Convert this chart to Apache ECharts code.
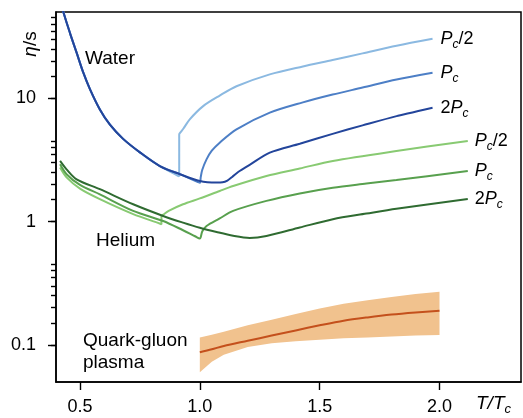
<!DOCTYPE html>
<html>
<head>
<meta charset="utf-8">
<script src="https://cdn.jsdelivr.net/npm/echarts@6/dist/echarts.min.js"></script>
<style>
  html, body { margin: 0; padding: 0; background: #fff; }
  #chart { width: 523px; height: 418px; }
</style>
</head>
<body>
<div id="chart"></div>
<script>
// ---- Water: eta/s against T/Tc at three pressures ----
const waterHalfT = [0.425, 0.430, 0.458, 0.486, 0.514, 0.542, 0.583, 0.625, 0.680, 0.750, 0.833, 0.905, 0.914, 0.914, 0.920, 0.931, 0.958, 1.014, 1.083, 1.153, 1.292, 1.430, 1.554, 1.679, 1.821, 1.971];
const waterHalfV = [55, 50.4, 33.9, 23.4, 16.1, 11.8, 8.11, 6.1, 4.68, 3.64, 2.82, 2.37, 2.33, 5.09, 5.30, 5.65, 6.74, 8.63, 10.5, 12.5, 15.6, 18.1, 20.4, 23.1, 26.6, 30.3];

const waterOneT = [0.425, 0.430, 0.458, 0.486, 0.514, 0.542, 0.583, 0.625, 0.680, 0.750, 0.833, 0.917, 0.990, 1.000, 1.004, 1.010, 1.028, 1.050, 1.083, 1.153, 1.292, 1.430, 1.554, 1.679, 1.821, 1.971];
const waterOneV = [55, 50.4, 33.9, 23.4, 16.1, 11.8, 8.11, 6.1, 4.68, 3.64, 2.82, 2.42, 2.10, 2.06, 2.30, 2.62, 3.19, 3.75, 4.36, 5.59, 7.63, 9.25, 10.7, 12.2, 14.2, 16.1];

const waterTwoT = [0.425, 0.430, 0.458, 0.486, 0.514, 0.542, 0.583, 0.625, 0.680, 0.750, 0.833, 0.917, 1.000, 1.070, 1.095, 1.115, 1.135, 1.160, 1.208, 1.292, 1.417, 1.554, 1.679, 1.821, 1.971];
const waterTwoV = [55, 50.4, 33.9, 23.4, 16.1, 11.8, 8.11, 6.1, 4.68, 3.64, 2.82, 2.42, 2.13, 2.07, 2.08, 2.15, 2.30, 2.52, 2.88, 3.62, 4.27, 5.14, 6.02, 7.16, 8.38];

// ---- Helium ----
const heliumHalfT = [0.417, 0.444, 0.500, 0.583, 0.722, 0.832, 0.840, 0.840, 0.848, 0.870, 0.930, 1.000, 1.083, 1.139, 1.278, 1.417, 1.555, 1.820, 2.118];
const heliumHalfV = [2.74, 2.28, 1.85, 1.52, 1.15, 0.965, 0.951, 1.11, 1.14, 1.22, 1.38, 1.54, 1.77, 1.94, 2.34, 2.69, 3.10, 3.73, 4.50];

const heliumOneT = [0.417, 0.444, 0.500, 0.583, 0.722, 0.847, 0.930, 0.980, 1.000, 1.010, 1.028, 1.083, 1.139, 1.278, 1.417, 1.555, 1.695, 1.820, 2.118];
const heliumOneV = [2.91, 2.42, 1.98, 1.66, 1.22, 1.01, 0.85, 0.76, 0.728, 0.83, 0.921, 1.06, 1.22, 1.47, 1.69, 1.88, 2.03, 2.17, 2.57];

const heliumTwoT = [0.417, 0.444, 0.486, 0.583, 0.722, 0.847, 0.930, 1.000, 1.070, 1.139, 1.208, 1.278, 1.417, 1.555, 1.695, 1.820, 2.118];
const heliumTwoV = [3.10, 2.65, 2.20, 1.83, 1.38, 1.11, 0.98, 0.89, 0.822, 0.767, 0.737, 0.764, 0.894, 1.044, 1.16, 1.27, 1.52];

// ---- Quark-gluon plasma: central estimate and uncertainty band ----
const qgpT    = [1.0, 1.05, 1.1, 1.2, 1.3, 1.4, 1.5, 1.6, 1.7, 1.8, 1.9, 2.0];
const qgpMid  = [0.087, 0.092, 0.098, 0.108, 0.119, 0.131, 0.144, 0.157, 0.167, 0.176, 0.183, 0.189];
const qgpHigh = [0.115, 0.121, 0.128, 0.144, 0.160, 0.178, 0.197, 0.215, 0.230, 0.245, 0.258, 0.269];
const qgpLow  = [0.060, 0.073, 0.083, 0.096, 0.103, 0.107, 0.110, 0.113, 0.115, 0.117, 0.119, 0.120];

// ---- Axis ranges and ticks ----
const X_MIN = 0.4, X_MAX = 2.34;
const Y_MIN = 0.05, Y_MAX = 50;
const xTicks = [0.5, 1.0, 1.5, 2.0];
const yMajorTicks = [0.1, 1, 10];

const FONT = "'Liberation Sans', Arial, Helvetica, sans-serif";

const pairs = (xs, ys) => xs.map((x, i) => [x, ys[i]]);

const richLabel = {
  i: { fontStyle: 'italic', fontSize: 18, lineHeight: 24, fontFamily: FONT, color: '#000' },
  n: { fontSize: 18, lineHeight: 24, fontFamily: FONT, color: '#000' },
  s: { fontStyle: 'italic', fontSize: 12, lineHeight: 13, verticalAlign: 'bottom', fontFamily: FONT, color: '#000' }
};

function curve(name, xs, ys, color, text, dist) {
  return {
    name: name,
    type: 'line',
    data: pairs(xs, ys),
    showSymbol: false,
    symbol: 'none',
    smooth: 0.3,
    lineStyle: { color: color, width: 2 },
    itemStyle: { color: color },
    endLabel: {
      show: true,
      distance: dist,
      formatter: () => text,
      rich: richLabel
    },
    z: 3
  };
}

const chart = echarts.init(document.getElementById('chart'), null, { renderer: 'canvas' });

chart.setOption({
  animation: false,
  backgroundColor: '#fff',
  grid: {
    left: 56, right: 2, top: 12, bottom: 36,
    show: true, borderColor: '#000', borderWidth: 1.5, backgroundColor: 'transparent'
  },
  xAxis: {
    type: 'value',
    min: X_MIN, max: X_MAX,
    axisLine: { show: true, lineStyle: { color: '#000', width: 1.5 } },
    axisTick: { show: true, customValues: xTicks, length: 8, lineStyle: { color: '#000', width: 1.4 } },
    axisLabel: {
      customValues: xTicks, margin: 16,
      fontSize: 18, fontFamily: FONT, color: '#000',
      formatter: v => v.toFixed(1)
    },
    splitLine: { show: false }
  },
  yAxis: {
    type: 'log', logBase: 10,
    min: Y_MIN, max: Y_MAX,
    interval: 1,
    axisLine: { show: true, lineStyle: { color: '#000', width: 1.5 } },
    axisTick: { show: true, customValues: yMajorTicks, length: 8, lineStyle: { color: '#000', width: 1.4 } },
    // nine divisions per decade give the mantissas 2..9
    minorTick: { show: true, splitNumber: 9, length: 5, lineStyle: { color: '#000', width: 1.4 } },
    minorSplitLine: { show: false },
    axisLabel: {
      customValues: yMajorTicks, margin: 20,
      fontSize: 18, fontFamily: FONT, color: '#000',
      formatter: v => String(v)
    },
    splitLine: { show: false }
  },
  series: [
    {
      name: 'QGP band',
      type: 'custom',
      coordinateSystem: 'cartesian2d',
      silent: true,
      z: 1,
      data: [[qgpT[0], qgpMid[0]]],
      renderItem: (params, api) => {
        const pts = [];
        for (let i = 0; i < qgpT.length; i++) pts.push(api.coord([qgpT[i], qgpHigh[i]]));
        for (let i = qgpT.length - 1; i >= 0; i--) pts.push(api.coord([qgpT[i], qgpLow[i]]));
        return { type: 'polygon', shape: { points: pts }, style: { fill: '#f1c28e' } };
      }
    },
    {
      name: 'QGP',
      type: 'line',
      data: pairs(qgpT, qgpMid),
      showSymbol: false,
      symbol: 'none',
      smooth: 0.3,
      lineStyle: { color: '#c4501c', width: 2 },
      z: 2
    },
    curve('Water Pc/2', waterHalfT, waterHalfV, '#8bb9e1', '{i|P}{s|c}{n|/2}', 8),
    curve('Water Pc', waterOneT, waterOneV, '#4d7fc6', '{i|P}{s|c}', 8),
    curve('Water 2Pc', waterTwoT, waterTwoV, '#23459b', '{n|2}{i|P}{s|c}', 8),
    curve('Helium Pc/2', heliumHalfT, heliumHalfV, '#88ca72', '{i|P}{s|c}{n|/2}', 7),
    curve('Helium Pc', heliumOneT, heliumOneV, '#58a04e', '{i|P}{s|c}', 7),
    curve('Helium 2Pc', heliumTwoT, heliumTwoV, '#2f6b31', '{n|2}{i|P}{s|c}', 7)
  ],
  graphic: [
    {
      type: 'text', x: 31, y: 44, rotation: Math.PI / 2,
      style: {
        text: '{i|η}{n|/s}', align: 'center', verticalAlign: 'middle',
        rich: {
          i: { fontStyle: 'italic', fontSize: 19, fontFamily: FONT, fill: '#000' },
          n: { fontSize: 19, fontFamily: FONT, fill: '#000' }
        }
      }
    },
    {
      type: 'text', x: 476, y: 404,
      style: {
        text: '{i|T/T}{s|c}', align: 'left', verticalAlign: 'middle',
        rich: {
          i: { fontStyle: 'italic', fontSize: 19, lineHeight: 24, fontFamily: FONT, fill: '#000' },
          s: { fontStyle: 'italic', fontSize: 13, lineHeight: 13, verticalAlign: 'bottom', fontFamily: FONT, fill: '#000' }
        }
      }
    },
    {
      type: 'text', x: 85, y: 59,
      style: { text: 'Water', fontSize: 19, fontFamily: FONT, fill: '#000', verticalAlign: 'middle' }
    },
    {
      type: 'text', x: 96, y: 241,
      style: { text: 'Helium', fontSize: 19, fontFamily: FONT, fill: '#000', verticalAlign: 'middle' }
    },
    {
      type: 'text', x: 83, y: 352,
      style: { text: 'Quark-gluon\nplasma', fontSize: 19, lineHeight: 22, fontFamily: FONT, fill: '#000', verticalAlign: 'middle' }
    }
  ]
});
</script>
</body>
</html>
